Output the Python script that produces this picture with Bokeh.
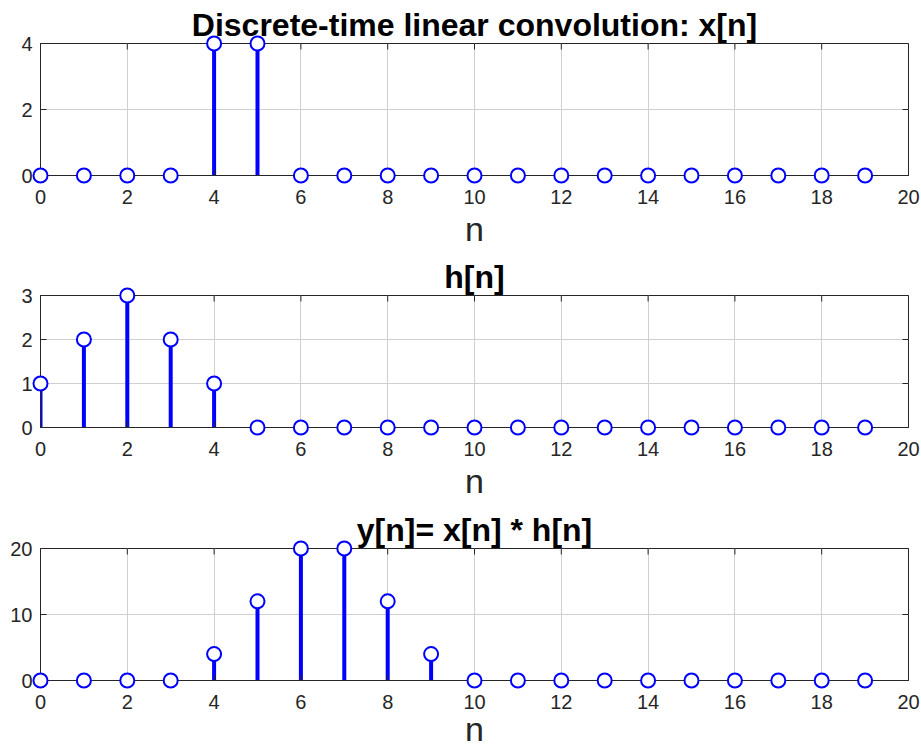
import math
from bokeh.plotting import figure
from bokeh.layouts import column
from bokeh.models import FixedTicker, Range1d, Title, ColumnDataSource
from bokeh.embed import file_html
from bokeh.resources import INLINE

# ---- data ----
n = list(range(20))
x_vals = [0, 0, 0, 0, 4, 4, 0, 0, 0, 0, 0, 0, 0, 0, 0, 0, 0, 0, 0, 0]
h_vals = [1, 2, 3, 2, 1, 0, 0, 0, 0, 0, 0, 0, 0, 0, 0, 0, 0, 0, 0, 0]
y_vals = [0, 0, 0, 0, 4, 12, 20, 20, 12, 4, 0, 0, 0, 0, 0, 0, 0, 0, 0, 0]
x_ticks = [0, 2, 4, 6, 8, 10, 12, 14, 16, 18, 20]
x_max = 20
titles = ["Discrete-time linear convolution: x[n]", "h[n]", "y[n]= x[n] * h[n]"]
y_ticks = [[0, 2, 4], [0, 1, 2, 3], [0, 10, 20]]
y_max = [4, 3, 20]
series = [x_vals, h_vals, y_vals]

FONT = "Liberation Sans"
DARK = "#262626"
BLUE = "#0000ff"
GRID = "#d0d0d0"


def make(i, border_top, border_bottom, tick_standoff, label_standoff):
    p = figure(frame_width=868, frame_height=132,
               min_border_left=40, min_border_right=13,
               min_border_top=border_top, min_border_bottom=border_bottom,
               x_range=Range1d(0, x_max), y_range=Range1d(0, y_max[i]),
               output_backend="svg", toolbar_location=None,
               x_axis_label="n")
    t = Title(text=titles[i], align="center", text_font=FONT,
              text_font_size="32px", text_font_style="bold",
              text_color="black", standoff=2)
    p.add_layout(t, "above")
    p.outline_line_color = DARK
    p.outline_line_width = 1
    for ax in p.axis:
        ax.axis_line_color = DARK
        ax.major_tick_line_color = DARK
        ax.major_tick_in = 6
        ax.major_tick_out = 0
        ax.minor_tick_line_color = None
        ax.major_label_text_font = FONT
        ax.major_label_text_font_size = "20px"
        ax.major_label_text_color = DARK
    p.xaxis.ticker = FixedTicker(ticks=x_ticks)
    p.yaxis.ticker = FixedTicker(ticks=y_ticks[i])
    p.xaxis.major_label_standoff = tick_standoff
    p.yaxis.major_label_standoff = 8
    p.xaxis.axis_label_text_font = FONT
    p.xaxis.axis_label_text_font_size = "34px"
    p.xaxis.axis_label_text_font_style = "normal"
    p.xaxis.axis_label_text_color = DARK
    p.xaxis.axis_label_standoff = label_standoff
    p.xgrid.grid_line_color = GRID
    p.ygrid.grid_line_color = GRID
    p.xgrid.ticker = FixedTicker(ticks=x_ticks)
    p.ygrid.ticker = FixedTicker(ticks=y_ticks[i])

    # inward ticks on the top and right edges of the box
    p.ray(x=x_ticks, y=[y_max[i]] * len(x_ticks), length=6, length_units="screen",
          angle=-math.pi / 2, line_color=DARK, line_width=1)
    p.ray(x=[x_max] * len(y_ticks[i]), y=y_ticks[i], length=6, length_units="screen",
          angle=math.pi, line_color=DARK, line_width=1)

    src = ColumnDataSource(dict(n=n, v=series[i], z=[0] * len(n)))
    p.segment(x0="n", y0="z", x1="n", y1="v", source=src, line_color=BLUE,
              line_width=4)
    p.scatter(x="n", y="v", source=src, size=14, marker="circle",
              line_color=BLUE, line_width=2, fill_color="white", level="overlay")
    return p


p1 = make(0, 43, 80, 14, 3)
p2 = make(1, 40, 81, 14, 3)
p3 = make(2, 40, 68, 14, -2)
layout = column(p1, p2, p3, spacing=0)

open("out.html", "w").write(file_html(layout, INLINE))
